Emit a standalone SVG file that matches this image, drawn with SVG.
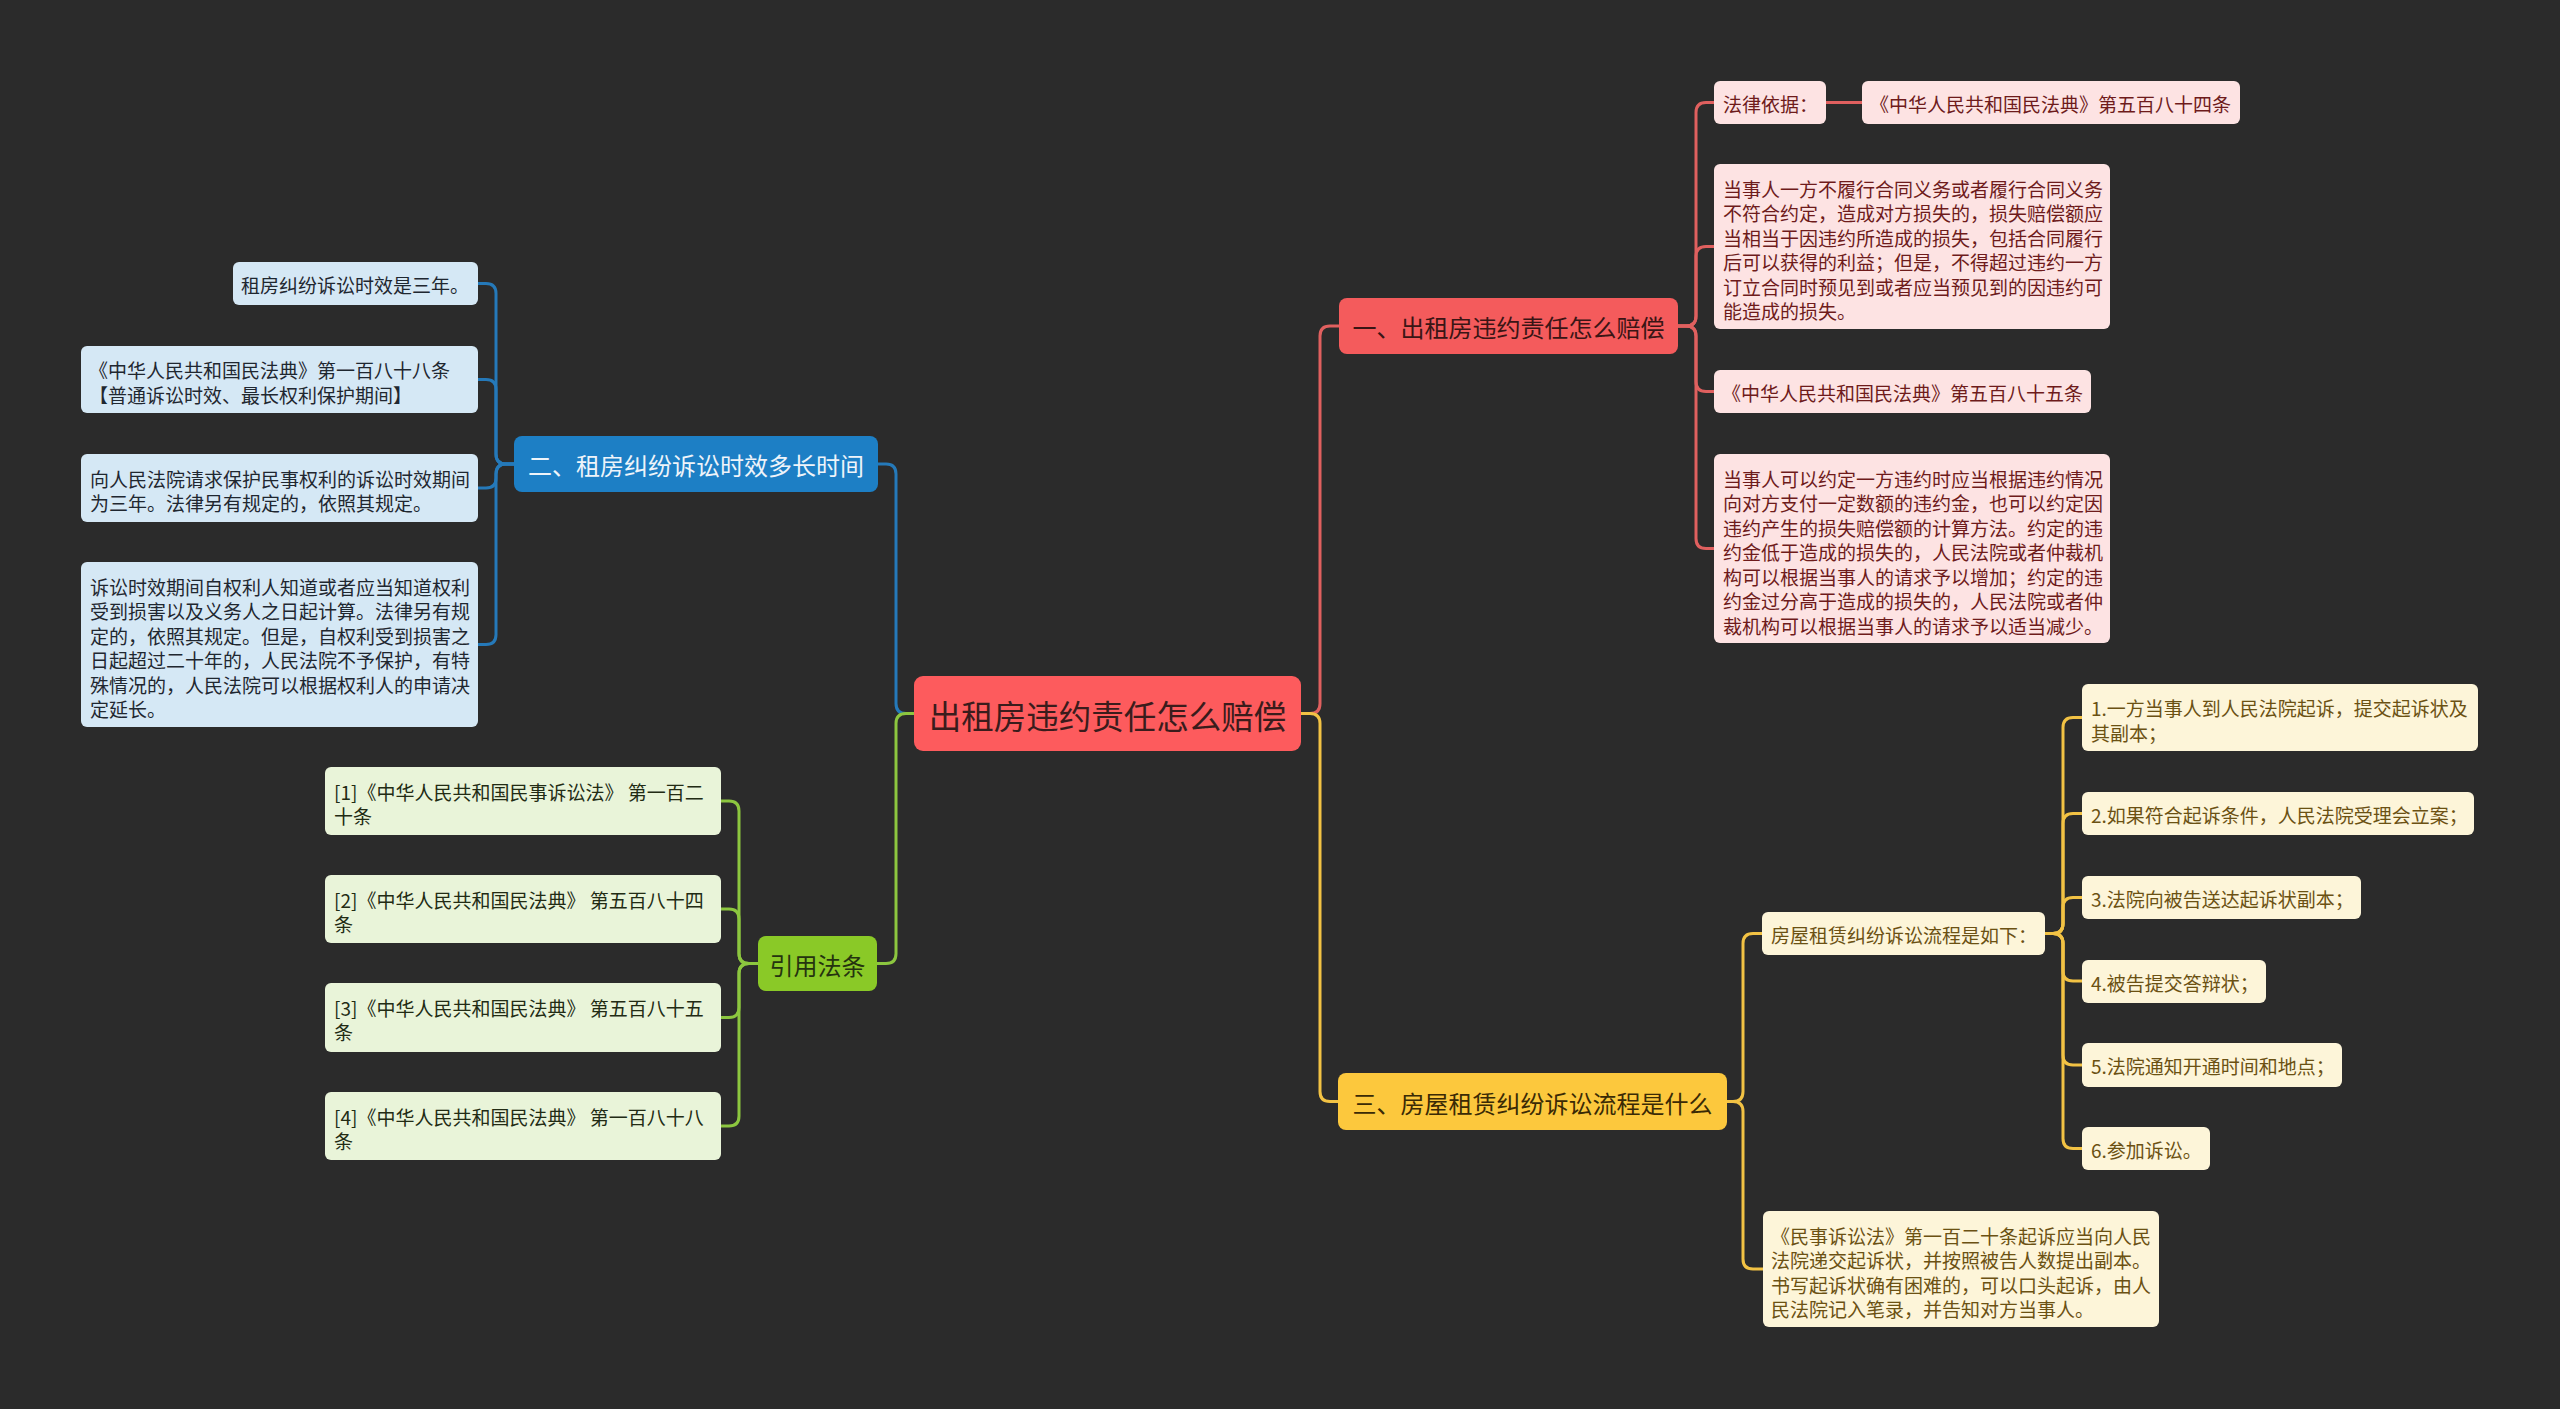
<svg xmlns="http://www.w3.org/2000/svg" width="2560" height="1409" viewBox="0 0 2560 1409">
<style>
text{font-family:"Noto Sans CJK SC","Noto Sans",sans-serif;dominant-baseline:central}
.main{font-size:24px;text-anchor:middle}
.leaf{font-size:19px}
.c{fill:none;stroke-width:3;stroke-linecap:round;stroke-linejoin:round}
.cr{stroke:#e0605f}.cb{stroke:#2579b9}.cg{stroke:#8cc63f}.cy{stroke:#f2c244}
.lr{fill:#fde3e3}.lb{fill:#d5e8f5}.lg{fill:#e9f4d9}.ly{fill:#fdf5d9}
.tr{fill:#6e1b1b}.tb{fill:#1f2730}.tg{fill:#222b14}.ty{fill:#6b5113}
</style>
<rect width="2560" height="1409" fill="#2b2b2b"/>
<g id="connectors">
<path class="c cb" d="M914,713.5 H906 Q896,713.5 896,703.5 V474 Q896,464 886,464 H878"/>
<path class="c cg" d="M914,713.5 H906 Q896,713.5 896,723.5 V953.5 Q896,963.5 886,963.5 H877"/>
<path class="c cr" d="M1301,713.5 H1310 Q1320,713.5 1320,703.5 V336 Q1320,326 1330,326 H1339"/>
<path class="c cy" d="M1301,713.5 H1310 Q1320,713.5 1320,723.5 V1091.5 Q1320,1101.5 1330,1101.5 H1338"/>
<path class="c cr" d="M1678,326 H1686 Q1696,326 1696,316 V112.5 Q1696,102.5 1706,102.5 H1714"/>
<path class="c cr" d="M1678,326 H1686 Q1696,326 1696,316 V256.5 Q1696,246.5 1706,246.5 H1714"/>
<path class="c cr" d="M1678,326 H1686 Q1696,326 1696,336 V381.5 Q1696,391.5 1706,391.5 H1714"/>
<path class="c cr" d="M1678,326 H1686 Q1696,326 1696,336 V538.5 Q1696,548.5 1706,548.5 H1714"/>
<path class="c cr" d="M1826,102.5 H1862"/>
<path class="c cb" d="M514,464 H506 Q496,464 496,454 V293.5 Q496,283.5 486,283.5 H478"/>
<path class="c cb" d="M514,464 H506 Q496,464 496,454 V389.5 Q496,379.5 486,379.5 H478"/>
<path class="c cb" d="M514,464 H506 Q496,464 496,474 V478 Q496,488 486,488 H478"/>
<path class="c cb" d="M514,464 H506 Q496,464 496,474 V634.5 Q496,644.5 486,644.5 H478"/>
<path class="c cg" d="M758,963.5 H749 Q739,963.5 739,953.5 V811 Q739,801 729,801 H721"/>
<path class="c cg" d="M758,963.5 H749 Q739,963.5 739,953.5 V919 Q739,909 729,909 H721"/>
<path class="c cg" d="M758,963.5 H749 Q739,963.5 739,973.5 V1007.5 Q739,1017.5 729,1017.5 H721"/>
<path class="c cg" d="M758,963.5 H749 Q739,963.5 739,973.5 V1116 Q739,1126 729,1126 H721"/>
<path class="c cy" d="M1727,1101.5 H1733 Q1743,1101.5 1743,1091.5 V943.5 Q1743,933.5 1753,933.5 H1762"/>
<path class="c cy" d="M1727,1101.5 H1733 Q1743,1101.5 1743,1111.5 V1259 Q1743,1269 1753,1269 H1763"/>
<path class="c cy" d="M2045,933.5 H2053 Q2063,933.5 2063,923.5 V727.5 Q2063,717.5 2073,717.5 H2082"/>
<path class="c cy" d="M2045,933.5 H2053 Q2063,933.5 2063,923.5 V823.5 Q2063,813.5 2073,813.5 H2082"/>
<path class="c cy" d="M2045,933.5 H2053 Q2063,933.5 2063,923.5 V907.5 Q2063,897.5 2073,897.5 H2082"/>
<path class="c cy" d="M2045,933.5 H2053 Q2063,933.5 2063,943.5 V971 Q2063,981 2073,981 H2082"/>
<path class="c cy" d="M2045,933.5 H2053 Q2063,933.5 2063,943.5 V1055 Q2063,1065 2073,1065 H2082"/>
<path class="c cy" d="M2045,933.5 H2053 Q2063,933.5 2063,943.5 V1138.5 Q2063,1148.5 2073,1148.5 H2082"/>
</g>

<g id="center">
<rect x="914" y="676" width="387" height="75" rx="9" fill="#fd5b5d"/>
<text x="1107.5" y="714" font-size="32.5" text-anchor="middle" fill="#3a1c1c">出租房违约责任怎么赔偿</text>
</g>

<g id="n1">
<rect x="1339" y="298" width="339" height="56" rx="8" fill="#f45b5c"/>
<text class="main" x="1508.5" y="326.5" fill="#3a1515">一、出租房违约责任怎么赔偿</text>
</g>
<g id="n2">
<rect x="514" y="436" width="364" height="56" rx="8" fill="#1d7fc5"/>
<text class="main" x="696" y="464.5" fill="#eef4fa">二、租房纠纷诉讼时效多长时间</text>
</g>
<g id="n3">
<rect x="1338" y="1073" width="389" height="57" rx="8" fill="#fcc83d"/>
<text class="main" x="1532.5" y="1102" fill="#3a2a05">三、房屋租赁纠纷诉讼流程是什么</text>
</g>
<g id="n4">
<rect x="758" y="936" width="119" height="55" rx="8" fill="#8ac927"/>
<text class="main" x="817.5" y="964" fill="#25330f">引用法条</text>
</g>

<g id="r1">
<rect class="lr" x="1714" y="81" width="112" height="43" rx="6"/>
<text class="leaf tr" x="1723" y="103">法律依据：</text>
</g>
<g id="r1a">
<rect class="lr" x="1862" y="81" width="378" height="43" rx="6"/>
<text class="leaf tr" x="1870" y="103">《中华人民共和国民法典》第五百八十四条</text>
</g>
<g id="r2">
<rect class="lr" x="1714" y="164" width="396" height="165" rx="6"/>
<text class="leaf tr" x="1723" y="187.5"><tspan x="1723">当事人一方不履行合同义务或者履行合同义务</tspan><tspan x="1723" dy="24.5">不符合约定，造成对方损失的，损失赔偿额应</tspan><tspan x="1723" dy="24.5">当相当于因违约所造成的损失，包括合同履行</tspan><tspan x="1723" dy="24.5">后可以获得的利益；但是，不得超过违约一方</tspan><tspan x="1723" dy="24.5">订立合同时预见到或者应当预见到的因违约可</tspan><tspan x="1723" dy="24.5">能造成的损失。</tspan></text>
</g>
<g id="r3">
<rect class="lr" x="1714" y="370" width="377" height="43" rx="6"/>
<text class="leaf tr" x="1722" y="392">《中华人民共和国民法典》第五百八十五条</text>
</g>
<g id="r4">
<rect class="lr" x="1714" y="454" width="396" height="189" rx="6"/>
<text class="leaf tr" x="1723" y="477.5"><tspan x="1723">当事人可以约定一方违约时应当根据违约情况</tspan><tspan x="1723" dy="24.5">向对方支付一定数额的违约金，也可以约定因</tspan><tspan x="1723" dy="24.5">违约产生的损失赔偿额的计算方法。约定的违</tspan><tspan x="1723" dy="24.5">约金低于造成的损失的，人民法院或者仲裁机</tspan><tspan x="1723" dy="24.5">构可以根据当事人的请求予以增加；约定的违</tspan><tspan x="1723" dy="24.5">约金过分高于造成的损失的，人民法院或者仲</tspan><tspan x="1723" dy="24.5">裁机构可以根据当事人的请求予以适当减少。</tspan></text>
</g>

<g id="b1">
<rect class="lb" x="233" y="262" width="245" height="43" rx="6"/>
<text class="leaf tb" x="241" y="284">租房纠纷诉讼时效是三年。</text>
</g>
<g id="b2">
<rect class="lb" x="81" y="346" width="397" height="67" rx="6"/>
<text class="leaf tb" x="89" y="369"><tspan x="89">《中华人民共和国民法典》第一百八十八条</tspan><tspan x="89" dy="24.5">【普通诉讼时效、最长权利保护期间】</tspan></text>
</g>
<g id="b3">
<rect class="lb" x="81" y="454" width="397" height="68" rx="6"/>
<text class="leaf tb" x="90" y="477.5"><tspan x="90">向人民法院请求保护民事权利的诉讼时效期间</tspan><tspan x="90" dy="24.5">为三年。法律另有规定的，依照其规定。</tspan></text>
</g>
<g id="b4">
<rect class="lb" x="81" y="562" width="397" height="165" rx="6"/>
<text class="leaf tb" x="90" y="585.5"><tspan x="90">诉讼时效期间自权利人知道或者应当知道权利</tspan><tspan x="90" dy="24.5">受到损害以及义务人之日起计算。法律另有规</tspan><tspan x="90" dy="24.5">定的，依照其规定。但是，自权利受到损害之</tspan><tspan x="90" dy="24.5">日起超过二十年的，人民法院不予保护，有特</tspan><tspan x="90" dy="24.5">殊情况的，人民法院可以根据权利人的申请决</tspan><tspan x="90" dy="24.5">定延长。</tspan></text>
</g>

<g id="g1">
<rect class="lg" x="325" y="767" width="396" height="68" rx="6"/>
<text class="leaf tg" x="334" y="790.5"><tspan x="334">[1]《中华人民共和国民事诉讼法》 第一百二</tspan><tspan x="334" dy="24.5">十条</tspan></text>
</g>
<g id="g2">
<rect class="lg" x="325" y="875" width="396" height="68" rx="6"/>
<text class="leaf tg" x="334" y="898.5"><tspan x="334">[2]《中华人民共和国民法典》 第五百八十四</tspan><tspan x="334" dy="24.5">条</tspan></text>
</g>
<g id="g3">
<rect class="lg" x="325" y="983" width="396" height="69" rx="6"/>
<text class="leaf tg" x="334" y="1006.5"><tspan x="334">[3]《中华人民共和国民法典》 第五百八十五</tspan><tspan x="334" dy="24.5">条</tspan></text>
</g>
<g id="g4">
<rect class="lg" x="325" y="1092" width="396" height="68" rx="6"/>
<text class="leaf tg" x="334" y="1115.5"><tspan x="334">[4]《中华人民共和国民法典》 第一百八十八</tspan><tspan x="334" dy="24.5">条</tspan></text>
</g>

<g id="y1">
<rect class="ly" x="1762" y="912" width="283" height="43" rx="6"/>
<text class="leaf ty" x="1771" y="934">房屋租赁纠纷诉讼流程是如下：</text>
</g>
<g id="y2">
<rect class="ly" x="1763" y="1211" width="396" height="116" rx="6"/>
<text class="leaf ty" x="1771" y="1234.5"><tspan x="1771">《民事诉讼法》第一百二十条起诉应当向人民</tspan><tspan x="1771" dy="24.5">法院递交起诉状，并按照被告人数提出副本。</tspan><tspan x="1771" dy="24.5">书写起诉状确有困难的，可以口头起诉，由人</tspan><tspan x="1771" dy="24.5">民法院记入笔录，并告知对方当事人。</tspan></text>
</g>
<g id="s1">
<rect class="ly" x="2082" y="684" width="396" height="67" rx="6"/>
<text class="leaf ty" x="2091" y="707"><tspan x="2091">1.一方当事人到人民法院起诉，提交起诉状及</tspan><tspan x="2091" dy="24.5">其副本；</tspan></text>
</g>
<g id="s2">
<rect class="ly" x="2082" y="792" width="392" height="43" rx="6"/>
<text class="leaf ty" x="2091" y="814">2.如果符合起诉条件，人民法院受理会立案；</text>
</g>
<g id="s3">
<rect class="ly" x="2082" y="876" width="279" height="43" rx="6"/>
<text class="leaf ty" x="2091" y="898">3.法院向被告送达起诉状副本；</text>
</g>
<g id="s4">
<rect class="ly" x="2082" y="960" width="184" height="43" rx="6"/>
<text class="leaf ty" x="2091" y="982">4.被告提交答辩状；</text>
</g>
<g id="s5">
<rect class="ly" x="2082" y="1043" width="260" height="44" rx="6"/>
<text class="leaf ty" x="2091" y="1065.5">5.法院通知开通时间和地点；</text>
</g>
<g id="s6">
<rect class="ly" x="2082" y="1127" width="128" height="43" rx="6"/>
<text class="leaf ty" x="2091" y="1149">6.参加诉讼。</text>
</g>
</svg>
